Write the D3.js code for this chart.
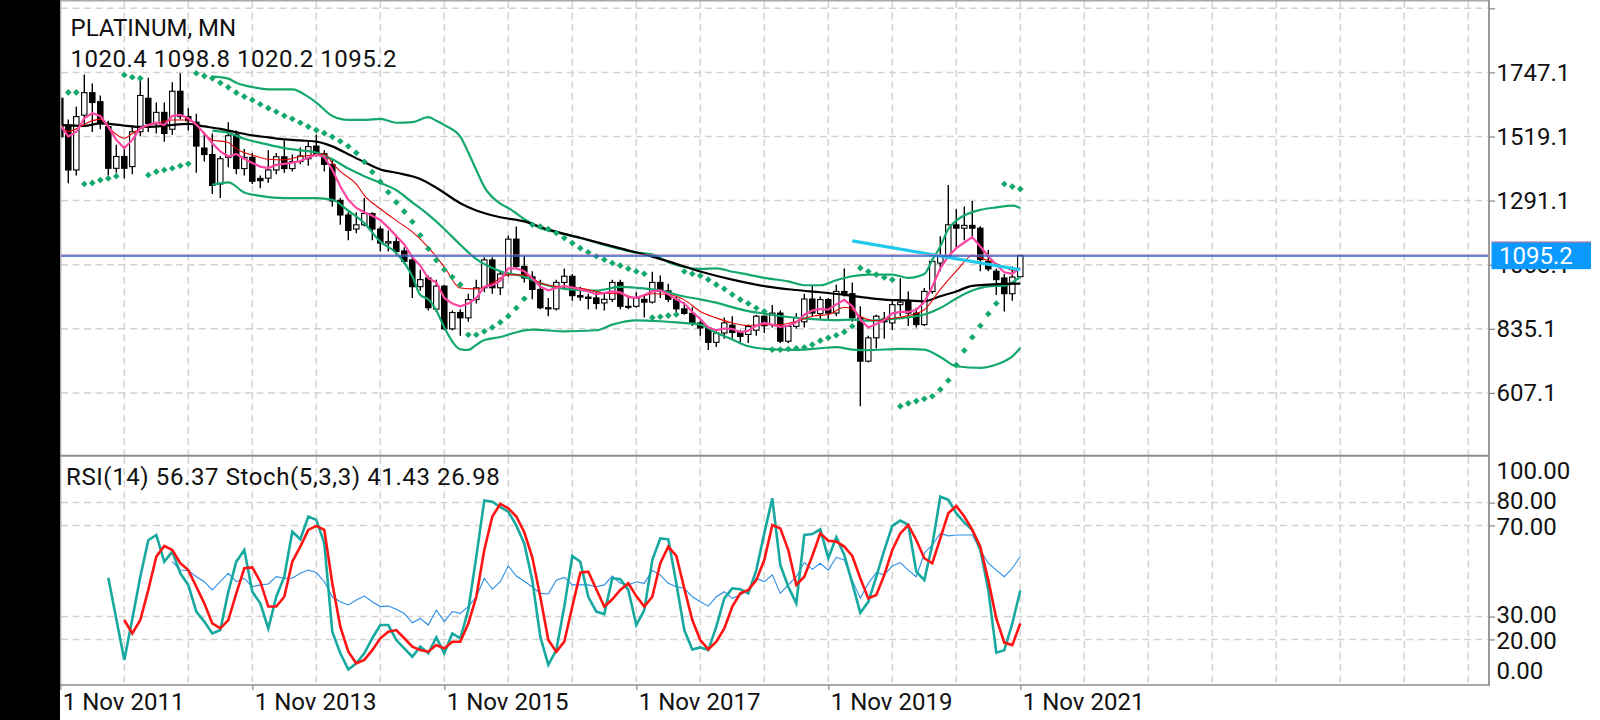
<!DOCTYPE html>
<html><head><meta charset="utf-8">
<script src="https://cdn.jsdelivr.net/npm/d3@7"></script>
<style>
html,body{margin:0;padding:0;background:#fff;overflow:hidden;}
svg{display:block;font-family:Roboto,"Noto Sans",sans-serif;}
</style></head><body>
<svg id="c" width="1600" height="720"></svg>
<script>
// ---------------- DATA ----------------
const symbolTitle = "PLATINUM, MN";
const lastOHLC = "1020.4 1098.8 1020.2 1095.2";
const oscTitle = "RSI(14) 56.37 Stoch(5,3,3) 41.43 26.98";
const lastPrice = 1095.2;

const dateTicks  = [0, 24, 48, 72, 96, 120];
const dateLabels = ["1 Nov 2011","1 Nov 2013","1 Nov 2015","1 Nov 2017","1 Nov 2019","1 Nov 2021"];
const priceTicks = [1747.1, 1519.1, 1291.1, 1063.1, 835.1, 607.1];
const priceGridExtra = [1975.1];
const oscTicks = [100, 80, 70, 30, 20, 0];
const oscGrid  = [80, 70, 30, 20];

// monthly candles, Nov 2011 .. Nov 2021 (121 bars)
const open = [1655,1560,1400,1595,1675,1643,1554,1406,1448,1412,1536,1655,1565,1605,1545,1680,1590,1570,1478,1455,
1350,1445,1525,1405,1445,1370,1371,1400,1447,1405,1430,1440,1485,1458,1420,1292,1240,1190,1205,1245,
1190,1140,1145,1112,1080,985,1016,905,987,835,893,874,939,981,1080,981,1030,1154,1057,1020,
975,910,906,1000,1022,953,948,945,927,940,1000,915,915,940,930,1000,970,940,906,890,
856,838,787,820,848,822,815,830,880,850,891,791,844,860,941,889,939,891,968,960,
874,720,803,870,856,921,932,891,850,968,1069,1093,1205,1193,1203,1193,1075,1040,1016,960,1020.4];
const high = [1680,1580,1625,1740,1708,1665,1575,1490,1475,1560,1718,1728,1640,1640,1712,1744,1620,1600,1535,1530,
1450,1570,1540,1475,1460,1380,1470,1460,1505,1455,1480,1505,1525,1470,1440,1300,1250,1250,1300,1250,
1200,1185,1170,1125,1090,1045,1025,1010,992,900,905,960,1010,1090,1090,1040,1166,1199,1095,1040,
1010,945,1010,1050,1030,985,960,965,960,1010,1010,950,965,955,1038,1025,995,950,930,912,
865,845,830,875,880,830,850,885,882,920,900,845,890,960,990,950,945,992,1050,1000,
915,810,885,895,940,1015,968,910,980,1085,1164,1347,1260,1270,1290,1200,1115,1050,1030,1057,1098.8];
const low = [1505,1353,1380,1560,1535,1545,1380,1390,1370,1385,1520,1535,1530,1500,1525,1580,1540,1390,1430,1315,
1300,1410,1385,1380,1350,1335,1355,1385,1390,1395,1420,1415,1448,1395,1270,1205,1150,1175,1200,1150,
1110,1110,1095,1065,945,970,900,895,830,830,810,860,925,965,960,955,1020,1050,1000,940,
905,880,900,980,935,935,905,905,900,930,905,905,910,875,925,945,930,895,885,845,
810,760,770,800,800,780,785,810,820,840,785,785,835,840,880,870,870,880,950,860,
560,715,765,800,830,880,845,840,845,960,1040,1090,1125,1150,1160,1040,1040,955,897,935,1020.2];
const close = [1518,1400,1590,1675,1640,1565,1406,1448,1406,1536,1665,1565,1605,1530,1680,1590,1575,1485,1455,1345,
1440,1522,1405,1445,1360,1362,1400,1447,1405,1430,1450,1483,1458,1420,1290,1240,1185,1205,1245,1190,
1140,1145,1110,1075,985,1010,910,987,835,893,874,939,981,1080,981,1030,1154,1057,1016,975,
910,906,1000,1022,953,948,943,925,940,1000,915,912,945,930,1000,970,940,906,890,856,
838,787,820,856,822,808,843,880,846,891,791,844,875,941,891,939,891,968,960,874,
720,803,880,860,921,930,891,850,968,1075,1093,1205,1193,1203,1193,1081,1048,1010,960,1019,1095.2];

// fast moving average (pink), one value per bar
const maFast = [1560,1519,1536,1584,1602,1592,1554,1507,1478,1507,1549,1560,1568,1560,1592,1596,1584,1562,1530,1495,
1466,1448,1457,1440,1425,1412,1407,1418,1422,1426,1432,1444,1454,1446,1401,1341,1294,1265,1250,1237,
1222,1195,1165,1135,1090,1060,1015,1000,945,925,915,925,945,985,990,1005,1050,1050,1040,1015,
985,972,980,988,982,975,968,958,962,968,965,948,945,955,968,972,958,940,925,895,
870,840,830,836,835,823,828,846,856,850,842,846,858,885,900,906,903,922,938,915,
868,840,852,866,890,895,895,903,930,985,1050,1093,1122,1142,1161,1128,1093,1063,1036,1031,1051];
// medium moving average (thin red), [bar, price]
const maMid = [[0,1557],[1,1537],[2,1547],[4,1575],[5,1581],[6,1552],[8,1513],[9,1530],[10,1547],[12,1566],[14,1578],[16,1578],[17,1560],[19,1507],[21,1498],[22,1475],[24,1453],[26,1438],[28,1436],[30,1448],[32,1455],[33,1457],[34,1424],[35,1395],[37,1350],[38,1310],[40,1262],[42,1220],[44,1180],[46,1125],[48,1055],[50,980],[52,977],[54,998],[56,1027],[58,1027],[60,998],[62,986],[64,984],[66,974],[68,962],[70,960],[72,945],[74,960],[76,957],[78,938],[80,897],[82,874],[84,856],[86,847],[88,850],[90,850],[92,862],[94,880],[96,886],[98,912],[99,905],[100,879],[102,864],[104,872],[106,882],[108,903],[110,975],[112,1040],[114,1095],[116,1078],[118,1055],[119,1043],[120,1051]];
// slow moving average (black), [bar, price]
const maSlow = [[0,1560],[3,1557],[5,1566],[8,1558],[10,1553],[13,1557],[16,1564],[18,1555],[20,1546],[22,1534],[24,1523],[26,1516],[28,1509],[30,1505],[32,1501],[34,1484],[36,1456],[38,1428],[40,1402],[42,1390],[45,1368],[47,1337],[50,1282],[52,1256],[55,1232],[58,1217],[61,1188],[65,1159],[70,1121],[74,1092],[76,1075],[80,1039],[84,1010],[88,987],[92,973],[95,965],[98,956],[101,945],[103,939],[106,936],[108,933],[110,951],[112,968],[114,988],[116,992],[118,995],[120,996]];
// Bollinger bands, [bar, price]
const bbUpper = [[19,1732],[21,1725],[22,1710],[24,1695],[26,1687],[29,1687],[31,1660],[32,1640],[34,1592],[36,1578],[38,1578],[40,1582],[42,1568],[44,1570],[46,1588],[47,1575],[48,1560],[50,1519],[51,1462],[52,1400],[53,1340],[55,1280],[56,1265],[58,1225],[60,1193],[62,1178],[65,1158],[67,1142],[70,1119],[72,1106],[74,1100],[76,1072],[78,1055],[80,1048],[82,1050],[84,1038],[86,1028],[88,1016],[91,1004],[93,990],[95,990],[97,1008],[99,1022],[101,1028],[104,1028],[106,1016],[108,1030],[109,1080],[110,1128],[111,1190],[112,1220],[114,1250],[115,1258],[117,1267],[119,1273],[120,1265]];
const bbMiddle = [[19,1540],[21,1532],[23,1511],[26,1490],[28,1478],[30,1470],[32,1462],[34,1438],[36,1405],[38,1378],[40,1354],[42,1328],[44,1285],[46,1241],[48,1190],[50,1134],[52,1083],[55,1040],[58,1020],[60,997],[63,977],[65,973],[67,971],[70,984],[72,981],[75,971],[78,950],[80,940],[82,928],[84,912],[86,898],[88,889],[91,877],[93,872],[95,868],[97,866],[99,868],[101,864],[104,870],[106,876],[108,886],[110,909],[112,943],[114,971],[116,986],[118,989],[120,1020]];
const bbLower = [[19,1347],[21,1356],[23,1320],[25,1308],[28,1300],[32,1300],[34,1294],[36,1255],[38,1211],[40,1145],[42,1105],[44,1022],[45,955],[46,940],[47,900],[48,840],[49,790],[50,762],[51,760],[52,778],[53,795],[55,806],[57,823],[59,832],[63,826],[67,830],[69,850],[72,865],[75,862],[77,858],[80,850],[82,821],[84,797],[86,773],[88,764],[92,760],[95,766],[97,770],[99,761],[101,759],[105,764],[108,761],[110,735],[112,702],[115,696],[117,708],[119,737],[120,767]];
// Parabolic SAR, bars 1..120
const sar = [1676,1676,1350,1354,1364,1370,1378,1738,1730,1726,1382,1394,1400,1406,1415,1422,1744,1734,1726,1710,
1694,1675,1661,1649,1634,1620,1607,1593,1582,1568,1554,1542,1531,1518,1502,1484,1461,1429,1393,1358,
1321,1285,1252,1216,1168,1120,1079,1045,1019,992,814,814,826,840,858,880,909,942,1205,1199,
1190,1176,1158,1140,1122,1107,1093,1081,1069,1060,1049,1039,1031,875,878,882,886,1039,1031,1024,
1010,992,977,957,939,925,909,897,761,761,763,766,769,779,793,803,812,824,844,1051,
1039,1028,1018,1010,560,570,578,586,595,619,651,706,758,805,846,888,925,1350,1341,1332];
// trend line [bar, price]
const trendLine = [[99,1148],[120,1045]];

// oscillators
const stochK = [[6,47],[7,29],[8,11],[9,29],[10,47.5],[11,63.5],[12,65.8],[13,54.1],[14,58.5],[15,49],[16,43.9],[17,32.2],[18,27.8],[19,22.6],[20,24.1],[21,40.9],[22,54.1],[23,59.2],[24,40.9],[25,35.8],[26,24.8],[27,38.7],[28,47.5],[29,67.3],[30,63.9],[31,73.9],[32,72.4],[33,62.2],[34,23.4],[35,13.9],[36,6.8],[37,9.5],[38,13.9],[39,20.5],[40,26.3],[41,26.3],[42,19.7],[43,16.1],[44,12.4],[45,16.8],[46,13.9],[47,20.9],[48,13.9],[49,22.6],[50,20.5],[51,32.9],[52,56.3],[53,80.9],[54,80.4],[55,78],[56,76],[57,70],[58,62],[59,46],[60,21.2],[61,8.8],[62,15.3],[63,34.4],[64,56.6],[65,54.1],[66,38.7],[67,32.2],[68,31.1],[69,46.8],[70,46.4],[71,41.7],[72,26.3],[73,32.9],[74,54.8],[75,64.3],[76,63.9],[77,44.6],[78,24.1],[79,15.6],[80,16.5],[81,15.3],[82,25.6],[83,38],[84,42.4],[85,42],[86,40.2],[87,50.4],[88,66.5],[89,81.9],[90,52.6],[91,43.1],[92,35.8],[93,65.8],[94,66.2],[95,68.3],[96,55.6],[97,64.8],[98,57],[99,44.6],[100,31.7],[101,36.5],[102,47.5],[103,59.2],[104,69.8],[105,72.1],[106,70.2],[107,49.7],[108,46],[109,61.4],[110,82.6],[111,81.2],[112,75.3],[113,71.2],[114,68],[115,59.2],[116,41.7],[117,14.2],[118,15.3],[119,27],[120,41.43]];
const stochD = [[8,28.5],[9,22.6],[10,28.5],[11,41.7],[12,56.3],[13,61],[14,59.2],[15,53.4],[16,50.4],[17,43.1],[18,35.8],[19,27],[20,24.8],[21,28.5],[22,40.2],[23,51.2],[24,51.6],[25,45.3],[26,34.4],[27,34.4],[28,38.7],[29,54.1],[30,60.7],[31,68],[32,69.8],[33,68],[34,44.6],[35,25.6],[36,14.6],[37,9.5],[38,11],[39,15.3],[40,20.5],[41,23.4],[42,24.1],[43,20.5],[44,16.8],[45,15.3],[46,14.6],[47,17.5],[48,16],[49,19],[50,19],[51,27],[52,38.7],[53,59.2],[54,73.9],[55,79.4],[56,77.5],[57,73.9],[58,67],[59,56],[60,38.7],[61,19.7],[62,14.6],[63,19],[64,34.4],[65,49.3],[66,49.7],[67,42],[68,34.4],[69,37.6],[70,41.7],[71,44.6],[72,39],[73,34.4],[74,38.7],[75,53.4],[76,60.7],[77,56.6],[78,42.4],[79,28.5],[80,19.7],[81,15.6],[82,19],[83,24.8],[84,34.4],[85,40.2],[86,41.7],[87,46],[88,54.8],[89,70.2],[90,68.7],[91,59.2],[92,43.9],[93,47.5],[94,56.6],[95,66.5],[96,63.3],[97,62.9],[98,60.7],[99,56.6],[100,46.8],[101,38],[102,39.5],[103,48.3],[104,59.2],[105,66.5],[106,70.2],[107,63.6],[108,55.6],[109,53.4],[110,64.3],[111,75.3],[112,78.5],[113,73.9],[114,68],[115,60.7],[116,46],[117,29.2],[118,18.6],[119,17.5],[120,26.98]];
const rsi = [[14,54.1],[15,50.4],[16,50.2],[17,47.5],[18,45.3],[19,41.7],[20,45.3],[21,49],[22,45.3],[23,46.8],[24,43.1],[25,43.9],[26,44.3],[27,47.5],[28,46.8],[29,46.8],[30,49],[31,50.4],[32,49.3],[33,45.3],[34,38.7],[35,36.5],[36,35.1],[37,37.3],[38,39],[39,36.5],[40,34.4],[41,34.6],[42,33.2],[43,31.4],[44,27.3],[45,29.2],[46,26.3],[47,32.9],[48,27.8],[49,32.2],[50,31.4],[51,34.4],[52,38.7],[53,46.8],[54,42],[55,45.3],[56,52.2],[57,47.8],[58,45.5],[59,43],[60,40.2],[61,39.9],[62,46],[63,47.2],[64,43.9],[65,43.9],[66,43.9],[67,43.1],[68,43.9],[69,47.8],[70,44.6],[71,43.9],[72,45.3],[73,44.6],[74,50.2],[75,48.3],[76,44.6],[77,43.1],[78,42.4],[79,38.7],[80,36.5],[81,34.6],[82,38.7],[83,40.9],[84,38],[85,39.5],[86,41.7],[87,46.8],[88,45.3],[89,48.3],[90,40.2],[91,43.9],[92,47.5],[93,53.7],[94,50.7],[95,53.4],[96,50.4],[97,56],[98,54.8],[99,46],[100,38],[101,44.6],[102,49.3],[103,48.3],[104,52.2],[105,53.7],[106,50.4],[107,47.5],[108,57.8],[109,61.4],[110,66.5],[111,65.4],[112,65.8],[113,65.8],[114,65.8],[115,59.2],[116,53.4],[117,50.4],[118,47.5],[119,51.2],[120,56.37]];

// ---------------- DRAW ----------------
const W = 1600, H = 720;
const L = 61, R = 1489, T1 = 1, B1 = 455.5, T2 = 457, B2 = 685;
const FONT = "Roboto, 'Noto Sans', sans-serif";
const svg = d3.select("#c");
svg.append("rect").attr("width", W).attr("height", H).attr("fill", "#fff");

const x  = d3.scaleLinear().domain([0, 120]).range([60.3, 1020.3]);
const y  = d3.scaleLinear().domain([607.1, 1747.1]).range([392.9, 72.4]);
const yo = d3.scaleLinear().domain([0, 100]).range([B2, T2]);

const defs = svg.append("defs");
defs.append("clipPath").attr("id", "cm").append("rect").attr("x", L).attr("y", T1).attr("width", R - L).attr("height", B1 - T1);
defs.append("clipPath").attr("id", "co").append("rect").attr("x", L).attr("y", T2).attr("width", R - L).attr("height", B2 - T2);

const gridC = "#d2d2d2", dash = "7,4.5";
const vBars = d3.range(8, 200, 8).filter(b => x(b) < R - 3);

// grids
const gGrid = svg.append("g");
vBars.forEach(b => {
  gGrid.append("line").attr("x1", x(b)).attr("x2", x(b)).attr("y1", T1).attr("y2", B1)
    .attr("stroke", gridC).attr("stroke-width", 1.5).attr("stroke-dasharray", dash);
  gGrid.append("line").attr("x1", x(b)).attr("x2", x(b)).attr("y1", T2).attr("y2", B2)
    .attr("stroke", gridC).attr("stroke-width", 1.5).attr("stroke-dasharray", dash);
});
priceGridExtra.concat(priceTicks).forEach(p => {
  gGrid.append("line").attr("x1", L).attr("x2", R).attr("y1", y(p)).attr("y2", y(p))
    .attr("stroke", gridC).attr("stroke-width", 1.5).attr("stroke-dasharray", dash);
});
oscGrid.forEach(v => {
  gGrid.append("line").attr("x1", L).attr("x2", R).attr("y1", yo(v)).attr("y2", yo(v))
    .attr("stroke", gridC).attr("stroke-width", 1.5).attr("stroke-dasharray", dash);
});

// main panel content
const gm = svg.append("g").attr("clip-path", "url(#cm)");
const bars = d3.range(close.length);
gm.selectAll("line.wick").data(bars).enter().append("line")
  .attr("x1", i => x(i)).attr("x2", i => x(i))
  .attr("y1", i => y(high[i])).attr("y2", i => y(low[i]))
  .attr("stroke", "#000").attr("stroke-width", 1.4);
gm.selectAll("rect.body").data(bars).enter().append("rect")
  .attr("x", i => x(i) - 2.7).attr("width", 5.4)
  .attr("y", i => Math.min(y(open[i]), y(close[i])))
  .attr("height", i => Math.max(1, Math.abs(y(open[i]) - y(close[i]))))
  .attr("fill", i => close[i] >= open[i] ? "#fff" : "#000")
  .attr("stroke", "#000").attr("stroke-width", 1.1);

const green = "#14a86c";
const pairLine = (curve) => d3.line().x(d => x(d[0])).y(d => y(d[1])).curve(curve);
[bbUpper, bbMiddle, bbLower].forEach(s => {
  gm.append("path").attr("d", pairLine(d3.curveMonotoneX)(s)).attr("fill", "none")
    .attr("stroke", green).attr("stroke-width", 2.2);
});
gm.append("path").attr("d", pairLine(d3.curveMonotoneX)(maSlow)).attr("fill", "none")
  .attr("stroke", "#000").attr("stroke-width", 2.2);
gm.append("path").attr("d", pairLine(d3.curveMonotoneX)(maMid)).attr("fill", "none")
  .attr("stroke", "#e60000").attr("stroke-width", 1.1);
gm.append("path").attr("d", d3.line().x((d, i) => x(i)).y(d => y(d))(maFast)).attr("fill", "none")
  .attr("stroke", "#ff45a2").attr("stroke-width", 2.2);

// parabolic SAR diamonds
gm.selectAll("path.sar").data(sar).enter().append("path")
  .attr("d", d3.symbol().type(d3.symbolSquare).size(22)())
  .attr("transform", (d, i) => `translate(${x(i + 1)},${y(d)}) rotate(45)`)
  .attr("fill", green);

// trend line
gm.append("path").attr("d", pairLine(d3.curveLinear)(trendLine)).attr("fill", "none")
  .attr("stroke", "#22c8ec").attr("stroke-width", 3.2);

// bid/ask price line
gm.append("line").attr("x1", L).attr("x2", R).attr("y1", y(lastPrice) - 1).attr("y2", y(lastPrice) - 1)
  .attr("stroke", "#d87090").attr("stroke-width", 0.7);
gm.append("line").attr("x1", L).attr("x2", R).attr("y1", y(lastPrice) + 0.3).attr("y2", y(lastPrice) + 0.3)
  .attr("stroke", "#2f5fd6").attr("stroke-width", 1.5);

// oscillator panel
const go = svg.append("g").attr("clip-path", "url(#co)");
const oscLine = d3.line().x(d => x(d[0])).y(d => yo(d[1]));
go.append("path").attr("d", oscLine(rsi)).attr("fill", "none").attr("stroke", "#2a8de4").attr("stroke-width", 1.1);
go.append("path").attr("d", oscLine(stochK)).attr("fill", "none").attr("stroke", "#17a99f").attr("stroke-width", 2.6);
go.append("path").attr("d", oscLine(stochD)).attr("fill", "none").attr("stroke", "#ff1414").attr("stroke-width", 2.6);

// frame
svg.append("rect").attr("x", 0).attr("y", 0).attr("width", 60).attr("height", H).attr("fill", "#000");
svg.append("line").attr("x1", 60.7).attr("x2", 60.7).attr("y1", 0).attr("y2", B2).attr("stroke", "#b0b0b0").attr("stroke-width", 1.4);
svg.append("line").attr("x1", 60).attr("x2", R + 1).attr("y1", 0.8).attr("y2", 0.8).attr("stroke", "#a8a8a8").attr("stroke-width", 1.6);
svg.append("line").attr("x1", 60).attr("x2", R + 1).attr("y1", B1 + 0.2).attr("y2", B1 + 0.2).attr("stroke", "#8c8c8c").attr("stroke-width", 2);
svg.append("line").attr("x1", 60).attr("x2", R + 1).attr("y1", B2).attr("y2", B2).attr("stroke", "#8c8c8c").attr("stroke-width", 1.6);
svg.append("line").attr("x1", R).attr("x2", R).attr("y1", 0).attr("y2", B2 + 1).attr("stroke", "#9a9a9a").attr("stroke-width", 2);

// axes
function styleAxis(g, size) {
  g.select(".domain").remove();
  g.attr("font-family", FONT).attr("font-size", size);
  g.selectAll(".tick line").attr("stroke", "#8c8c8c").attr("stroke-width", 1.3);
  g.selectAll(".tick text").attr("fill", "#111");
}
const axMain = svg.append("g").attr("transform", `translate(${R},0)`)
  .call(d3.axisRight(y).tickValues(priceGridExtra.concat(priceTicks)).tickSize(6).tickPadding(1.5)
    .tickFormat(d => priceTicks.includes(d) ? d.toFixed(1) : ""));
styleAxis(axMain, 24);

const axOsc = svg.append("g").attr("transform", `translate(${R},0)`)
  .call(d3.axisRight(yo).tickValues(oscTicks).tickSize(6).tickPadding(1.5).tickFormat(d => d.toFixed(2)));
styleAxis(axOsc, 24);
axOsc.selectAll(".tick").filter(d => d === 100 || d === 0).select("line").remove();
axOsc.selectAll(".tick").filter(d => d === 100).select("text").attr("y", 14);
axOsc.selectAll(".tick").filter(d => d === 0).select("text").attr("y", -14);
axOsc.selectAll(".tick").filter(d => d === 80 || d === 30).select("text").attr("y", -1.5);
axOsc.selectAll(".tick").filter(d => d === 70 || d === 20).select("text").attr("y", 1);

const axDate = svg.append("g").attr("transform", `translate(0,${B2})`)
  .call(d3.axisBottom(x).tickValues(dateTicks).tickSize(5).tickPadding(3)
    .tickFormat((d, i) => dateLabels[i]));
styleAxis(axDate, 24);
axDate.selectAll(".tick text").attr("text-anchor", "start").attr("x", 2);

// current price label
const py = y(lastPrice);
svg.append("rect").attr("x", R + 2.5).attr("y", py - 14).attr("width", 99.5).attr("height", 27.5).attr("fill", "#0a99ff");
svg.append("line").attr("x1", R + 2.5).attr("x2", R + 102).attr("y1", py - 13.6).attr("y2", py - 13.6).attr("stroke", "#e87080").attr("stroke-width", 0.9);
svg.append("text").attr("x", R + 10).attr("y", py).attr("dy", "0.36em").attr("fill", "#fff")
  .attr("font-family", FONT).attr("font-size", 24).text(lastPrice.toFixed(1));

// titles
svg.append("text").attr("x", 70.5).attr("y", 36).attr("font-family", FONT).attr("font-size", 24).attr("fill", "#111").text(symbolTitle);
svg.append("text").attr("x", 70.5).attr("y", 66.5).attr("font-family", FONT).attr("font-size", 24)
  .attr("letter-spacing", 0.5).attr("fill", "#111").text(lastOHLC);
svg.append("text").attr("x", 66).attr("y", 485).attr("font-family", FONT).attr("font-size", 24)
  .attr("letter-spacing", 0.6).attr("fill", "#111").text(oscTitle);
</script>
</body></html>
